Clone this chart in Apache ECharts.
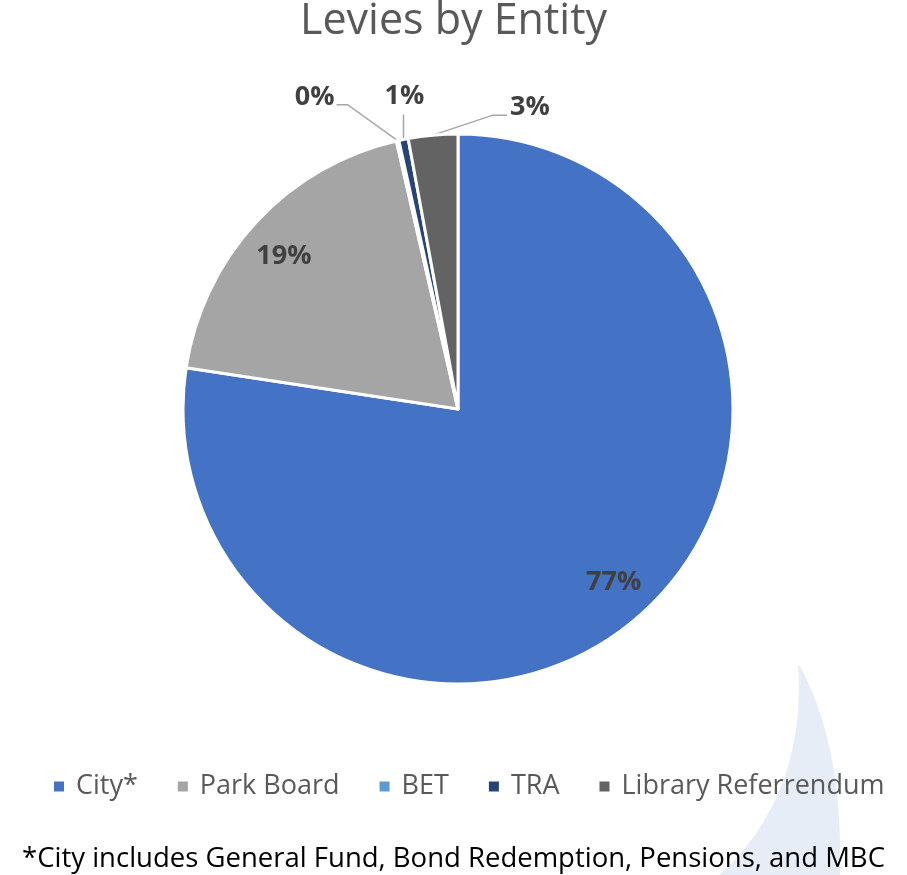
<!DOCTYPE html>
<html>
<head>
<meta charset="utf-8">
<script src="https://cdn.jsdelivr.net/npm/echarts@6/dist/echarts.min.js"></script>
<style>
html,body{margin:0;padding:0;background:#fff;}
#chart{width:907px;height:875px;}
</style>
</head>
<body>
<div id="chart"></div>
<script>
const categories = ['City*', 'Park Board', 'BET', 'TRA', 'Library Referrendum'];
const values = [77.4, 19.0, 0.15, 0.55, 2.9];
const colors = ['#4472C4', '#A5A5A5', '#5B9BD5', '#264478', '#636363'];
const footnote = '*City includes General Fund, Bond Redemption, Pensions, and MBC';

const CX = 458, CY = 409, R = 275;
const FONT = '"Open Sans", "Noto Sans", sans-serif';

const chart = echarts.init(document.getElementById('chart'), null, {renderer: 'canvas'});

// decorative crescent in the lower right (background watermark)
function bez(p0, p1, p2, p3, n) {
  const pts = [];
  for (let k = 0; k <= n; k++) {
    const t = k / n, u = 1 - t;
    pts.push([
      u*u*u*p0[0] + 3*u*u*t*p1[0] + 3*u*t*t*p2[0] + t*t*t*p3[0],
      u*u*u*p0[1] + 3*u*u*t*p1[1] + 3*u*t*t*p2[1] + t*t*t*p3[1]
    ]);
  }
  return pts;
}
const crescent = bez([798,663],[830,720],[842,790],[840,876],30)
  .concat(bez([718,876],[770,830],[805,760],[798,663],30));

// label placement offsets relative to the default label anchors
const insideOffsets = {0: [0, -10], 1: [1, 8]};
const outsideOffsets = {
  2: {lx: -63, ly: -43, align: 'right', line: [[-50, -36], [-61, -36]]},
  3: {lx: 1, ly: -43, align: 'center', line: [[0, -25], [0, -25]]},
  4: {lx: 77, ly: -28, align: 'left', line: [[60, -20], [74, -20]]}
};

const data = categories.map((name, i) => {
  const inside = i < 2;
  return {
    name: name,
    value: values[i],
    itemStyle: {color: colors[i]},
    label: {position: inside ? 'inside' : 'outside'},
    labelLine: {show: !inside}
  };
});

const option = {
  backgroundColor: '#ffffff',
  animation: false,
  title: {
    text: 'Levies by Entity',
    left: 'center',
    top: -5,
    textStyle: {fontFamily: FONT, fontSize: 43, fontWeight: 'normal', color: '#595959'}
  },
  legend: {
    data: categories,
    bottom: 70,
    left: 47,
    itemWidth: 12,
    itemHeight: 12,
    itemGap: 38,
    icon: 'rect',
    textStyle: {fontFamily: FONT, fontSize: 27, color: '#595959', padding: [0, 0, 0, 6]}
  },
  graphic: [
    {
      type: 'polygon',
      z: -10,
      silent: true,
      shape: {points: crescent},
      style: {fill: '#E7EDF6'}
    },
    {
      type: 'text',
      left: 'center',
      top: 845,
      style: {text: footnote, font: '27.5px ' + FONT, fill: '#000000'}
    }
  ],
  series: [{
    type: 'pie',
    center: [CX, CY],
    radius: R,
    startAngle: 90,
    clockwise: true,
    avoidLabelOverlap: false,
    data: data,
    itemStyle: {borderColor: '#ffffff', borderWidth: 3},
    label: {
      show: true,
      fontFamily: FONT,
      fontWeight: 'bold',
      fontSize: 27,
      color: '#404040',
      formatter: p => Math.round(p.percent) + '%'
    },
    labelLine: {show: true, length: 20, length2: 10, lineStyle: {color: '#A6A6A6', width: 1.5}},
    labelLayout: function (params) {
      const i = params.dataIndex;
      if (i < 2) {
        const r = params.labelRect;
        const mx = r.x + r.width / 2, my = r.y + r.height / 2;
        const k = 0.85 / 0.5;
        const off = insideOffsets[i];
        return {x: CX + (mx - CX) * k + off[0], y: CY + (my - CY) * k + 2 + off[1], align: 'center', verticalAlign: 'middle'};
      }
      const o = outsideOffsets[i];
      const p0 = params.labelLinePoints[0];
      return {
        x: p0[0] + o.lx,
        y: p0[1] + o.ly,
        align: o.align,
        verticalAlign: 'middle',
        labelLinePoints: [p0, [p0[0] + o.line[0][0], p0[1] + o.line[0][1]], [p0[0] + o.line[1][0], p0[1] + o.line[1][1]]]
      };
    }
  }]
};

chart.setOption(option);
</script>
</body>
</html>
